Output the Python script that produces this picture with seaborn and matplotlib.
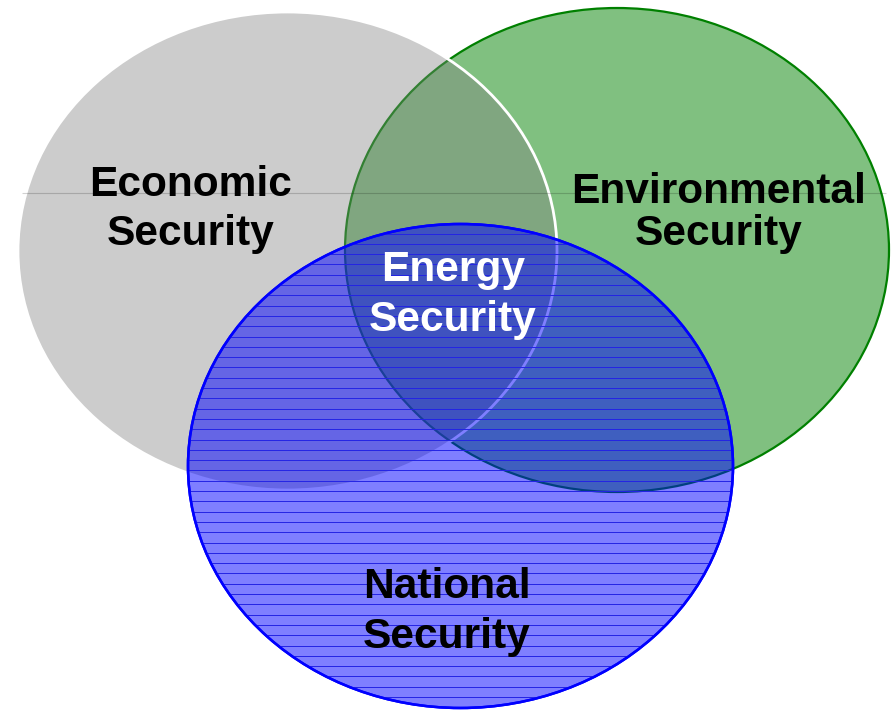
import numpy as np
import matplotlib
matplotlib.use("Agg")
import matplotlib.pyplot as plt
from matplotlib.patches import Ellipse
import seaborn as sns

# ---- data ----
set_names = ["Economic Security", "Environmental Security", "National Security"]
center_label = "Energy Security"
label_lines = {
    "Economic Security": ["Economic", "Security"],
    "Environmental Security": ["Environmental", "Security"],
    "National Security": ["National", "Security"],
    "Energy Security": ["Energy", "Security"],
}

# ---- layout / style (pixel coordinates, y downward) ----
ellipse_geom = {
    "Environmental Security": dict(xy=(617, 250), w=544, h=484),
    "Economic Security": dict(xy=(287.5, 251), w=539, h=478),
    "National Security": dict(xy=(460.5, 466), w=545, h=484),
}
ellipse_style = {
    "Environmental Security": dict(fc="#80c080", ec="#008000", lw=1.6),
    "Economic Security": dict(fc=(0.5, 0.5, 0.5, 0.4), ec="white", lw=2.0),
    "National Security": dict(fc=(0.0, 0.0, 1.0, 0.5), ec="#0000ff", lw=1.8),
}
draw_order = ["Environmental Security", "Economic Security", "National Security"]

label_pos = {
    "Economic Security": (191, [196, 245]),
    "Environmental Security": (719, [203, 245]),
    "Energy Security": (453, [281, 331]),
    "National Security": (447, [598, 648]),
}
label_color = {
    "Economic Security": "black",
    "Environmental Security": "black",
    "Energy Security": "white",
    "National Security": "black",
}

sns.set_theme(style="white")
plt.rcParams["font.family"] = ["Liberation Sans", "DejaVu Sans"]

W, H = 892, 710
fig = plt.figure(figsize=(W / 100, H / 100), dpi=100)
ax = fig.add_axes([0, 0, 1, 1])
ax.set_xlim(0, W)
ax.set_ylim(H, 0)
ax.axis("off")

patches = {}
for name in draw_order:
    g = ellipse_geom[name]
    s = ellipse_style[name]
    e = Ellipse(g["xy"], g["w"], g["h"], facecolor=s["fc"], edgecolor=s["ec"],
                linewidth=s["lw"], zorder=2)
    ax.add_patch(e)
    patches[name] = e

# faint horizontal rule across the upper ellipses
ax.hlines(193, 22, 886, colors=(0, 0, 0, 0.18), linewidth=0.8, zorder=2.5)

# horizontal line hatching inside the National Security ellipse
nat = ellipse_geom["National Security"]
ys = np.arange(223.2, nat["xy"][1] + nat["h"] / 2, 10.3)
hl = ax.hlines(ys, nat["xy"][0] - nat["w"] / 2, nat["xy"][0] + nat["w"] / 2,
               colors="#2424e4", linewidth=0.7, zorder=3)
hl.set_clip_path(patches["National Security"])

# re-draw blue edge on top of hatching
g = ellipse_geom["National Security"]
ax.add_patch(Ellipse(g["xy"], g["w"], g["h"], facecolor="none",
                     edgecolor="#0000ff", linewidth=1.8, zorder=3.5))

for name in set_names + [center_label]:
    x, baselines = label_pos[name]
    for line, yb in zip(label_lines[name], baselines):
        ax.text(x, yb, line, ha="center", va="baseline", fontsize=30.6,
                fontweight="bold", color=label_color[name], zorder=5)

fig.savefig("out.png", dpi=100)
